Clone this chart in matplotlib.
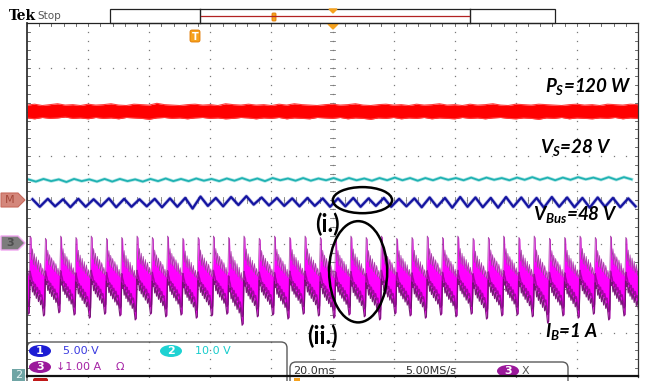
import numpy as np
import matplotlib
matplotlib.use('Agg')
import matplotlib.pyplot as plt
from matplotlib.patches import Ellipse, Polygon, Rectangle, FancyBboxPatch

plt.rcParams.update({
    'mathtext.fontset': 'custom',
    'mathtext.it': 'Lato:italic:bold',
    'mathtext.rm': 'Lato:italic:bold',
    'mathtext.bf': 'Lato:italic:bold',
})

W, H = 646, 381
PERIOD = 0.25   # ripple period in divisions (5 ms at 20 ms/div)

# --- P_S (red): edges of the noisy band, every 1/8 div ---
ps_x = np.linspace(0, 10, 81)
ps_upper = [2.15, 2.17, 2.14, 2.16, 2.18, 2.15, 2.16, 2.14, 2.17, 2.15,
            2.16, 2.18, 2.15, 2.14, 2.17, 2.16, 2.15, 2.19, 2.16, 2.15,
            2.14, 2.16, 2.17, 2.15, 2.16, 2.14, 2.18, 2.16, 2.15, 2.17,
            2.15, 2.16, 2.14, 2.17, 2.15, 2.18, 2.16, 2.15, 2.14, 2.16,
            2.17, 2.15, 2.16, 2.18, 2.15, 2.14, 2.16, 2.17, 2.15, 2.16,
            2.14, 2.17, 2.15, 2.16, 2.18, 2.15, 2.16, 2.14, 2.17, 2.15,
            2.16, 2.18, 2.15, 2.14, 2.17, 2.16, 2.15, 2.17, 2.16, 2.15,
            2.14, 2.16, 2.17, 2.15, 2.16, 2.14, 2.17, 2.16, 2.15, 2.17, 2.16]
ps_lower = [1.86, 1.84, 1.87, 1.85, 1.86, 1.88, 1.85, 1.86, 1.84, 1.87,
            1.85, 1.86, 1.84, 1.87, 1.86, 1.85, 1.83, 1.86, 1.87, 1.85,
            1.86, 1.84, 1.86, 1.87, 1.85, 1.86, 1.84, 1.85, 1.87, 1.86,
            1.84, 1.86, 1.85, 1.87, 1.84, 1.86, 1.85, 1.84, 1.87, 1.86,
            1.85, 1.87, 1.84, 1.86, 1.85, 1.83, 1.86, 1.85, 1.87, 1.84,
            1.86, 1.85, 1.87, 1.84, 1.86, 1.85, 1.84, 1.87, 1.85, 1.86,
            1.84, 1.86, 1.87, 1.85, 1.84, 1.86, 1.85, 1.83, 1.86, 1.85,
            1.87, 1.84, 1.86, 1.85, 1.84, 1.86, 1.85, 1.87, 1.84, 1.86, 1.85]

# --- V_S (cyan): ripple crests / troughs, one pair per cycle ---
vs_crest = [0.47, 0.48, 0.47, 0.48, 0.47, 0.48, 0.48, 0.47, 0.48, 0.49,
            0.48, 0.49, 0.48, 0.49, 0.50, 0.49, 0.50, 0.49, 0.50, 0.49,
            0.50, 0.50, 0.49, 0.50, 0.51, 0.50, 0.50, 0.51, 0.50, 0.51,
            0.51, 0.50, 0.51, 0.52, 0.51, 0.51, 0.52, 0.51, 0.52, 0.52]
vs_trough = [0.42, 0.43, 0.41, 0.43, 0.42, 0.42, 0.43, 0.42, 0.43, 0.43,
             0.43, 0.44, 0.43, 0.44, 0.44, 0.43, 0.45, 0.44, 0.44, 0.45,
             0.44, 0.45, 0.44, 0.45, 0.45, 0.44, 0.45, 0.46, 0.45, 0.45,
             0.46, 0.45, 0.46, 0.46, 0.45, 0.46, 0.47, 0.46, 0.46, 0.47]

# --- V_Bus (blue) ---
vbus_crest = [0.02, 0.03, 0.02, 0.03, 0.02, 0.04, 0.03, 0.02, 0.03, 0.04,
              0.05, 0.08, 0.05, 0.07, 0.09, 0.06, 0.05, 0.04, 0.05, 0.04,
              0.04, 0.05, 0.04, 0.05, 0.03, 0.04, 0.06, 0.05, 0.07, 0.06,
              0.05, 0.07, 0.06, 0.05, 0.07, 0.06, 0.05, 0.06, 0.05, 0.04]
vbus_trough = [-0.15, -0.14, -0.16, -0.15, -0.14, -0.16, -0.15, -0.14, -0.16, -0.15,
               -0.19, -0.13, -0.14, -0.11, -0.10, -0.12, -0.13, -0.14, -0.13, -0.15,
               -0.14, -0.15, -0.13, -0.15, -0.14, -0.16, -0.15, -0.17, -0.15, -0.16,
               -0.17, -0.15, -0.16, -0.17, -0.15, -0.16, -0.17, -0.15, -0.16, -0.14]

# --- I_B (magenta): spike top and trough bottom of every cycle ---
ib_top = [-0.84, -0.81, -0.86, -0.81, -0.84, -0.81, -0.86, -0.84, -0.81, -0.84,
          -0.81, -0.86, -0.84, -0.81, -0.84, -0.81, -0.86, -0.81, -0.84, -0.81,
          -0.84, -0.86, -0.81, -0.84, -0.81, -0.86, -0.84, -0.81, -0.84, -0.81,
          -0.86, -0.84, -0.81, -0.84, -0.81, -0.86, -0.84, -0.81, -0.84, -0.81,
          -0.84]
ib_bottom = [-2.58, -2.62, -2.55, -2.60, -2.67, -2.58, -2.62, -2.71, -2.58, -2.64,
             -2.60, -2.67, -2.62, -2.58, -2.83, -2.64, -2.60, -2.69, -2.58, -2.62,
             -2.67, -2.60, -2.64, -2.71, -2.58, -2.62, -2.67, -2.60, -2.64, -2.58,
             -2.69, -2.62, -2.60, -2.64, -2.78, -2.62, -2.67, -2.58, -2.71, -2.62,
             -2.64]
# shape of one cycle: phase, upper and lower edge (0 = spike top, 1 = trough)
ib_phase = [0.00, 0.06, 0.10, 0.16, 0.22, 0.28, 0.34, 0.41,
            0.48, 0.55, 0.62, 0.69, 0.76, 0.83, 0.88, 0.95]
ib_hi = [0.00, 0.02, 0.30, 0.16, 0.36, 0.22, 0.38, 0.26,
         0.42, 0.30, 0.45, 0.34, 0.48, 0.40, 0.50, 0.45]
ib_lo = [0.55, 0.62, 0.58, 0.70, 0.63, 0.74, 0.66, 0.78,
         0.70, 0.82, 0.74, 0.86, 0.80, 0.92, 1.00, 0.98]

fig = plt.figure(figsize=(W / 100, H / 100), dpi=100)
fig.patch.set_facecolor('white')

# screen: 10 x 8 divisions
sx0, sx1, sy0, sy1 = 27, 638, 23.3, 377.0
ax = fig.add_axes([sx0 / W, 1 - sy1 / H, (sx1 - sx0) / W, (sy1 - sy0) / H])
ax.set_xlim(0, 10)
ax.set_ylim(-4, 4)
ax.axis('off')

# graticule dots
gcol = '#7a7a7a'
for gx in range(1, 10):
    ax.plot(np.full(41, gx), np.arange(-4, 4.01, 0.2), ls='none', marker='s',
            ms=0.9, mew=0, color=gcol, zorder=1)
for gy in range(-3, 4):
    ax.plot(np.arange(0, 10.01, 0.2), np.full(51, gy), ls='none', marker='s',
            ms=0.9, mew=0, color=gcol, zorder=1)
# minor ticks on the centre lines and borders
for t in np.arange(0, 10.01, 0.2):
    ax.plot([t, t], [-0.06, 0.06], color=gcol, lw=0.6, zorder=1)
    ax.plot([t, t], [3.93, 4], color='#555555', lw=0.6, zorder=1)
for t in np.arange(-4, 4.01, 0.2):
    ax.plot([4.96, 5.04], [t, t], color=gcol, lw=0.6, zorder=1)
    ax.plot([0, 0.05], [t, t], color='#555555', lw=0.6, zorder=1)
    ax.plot([9.95, 10], [t, t], color='#555555', lw=0.6, zorder=1)

# P_S
ax.fill_between(ps_x, ps_lower, ps_upper, color='#ff0000', lw=0, zorder=3)
ax.plot(ps_x, ps_upper, color='#ff3a3a', lw=0.8, zorder=3)
ax.plot(ps_x, ps_lower, color='#ff3a3a', lw=0.8, zorder=3)

# V_S
k = np.arange(len(vs_crest))
vs_x = np.ravel(np.column_stack([0.02 + PERIOD * k, 0.145 + PERIOD * k]))
vs_y = np.ravel(np.column_stack([vs_crest, vs_trough]))
ax.plot(vs_x, vs_y, color='#7fd6d6', lw=2.4, alpha=0.6, zorder=3)
ax.plot(vs_x, vs_y, color='#1fb2b2', lw=1.3, zorder=3)

# V_Bus
k = np.arange(len(vbus_crest))
vb_x = np.ravel(np.column_stack([0.09 + PERIOD * k, 0.21 + PERIOD * k]))
vb_y = np.ravel(np.column_stack([vbus_crest, vbus_trough]))
ax.plot(vb_x, vb_y, color='#6060c8', lw=2.6, alpha=0.45, zorder=3)
ax.plot(vb_x, vb_y, color='#1414a0', lw=1.6, zorder=3)

# I_B
ib_x, ib_u, ib_l = [], [], []
for i, (top, bot) in enumerate(zip(ib_top, ib_bottom)):
    start = 0.05 + PERIOD * (i - 1)
    for p, h, lo in zip(ib_phase, ib_hi, ib_lo):
        ib_x.append(start + PERIOD * p)
        ib_u.append(top + h * (bot - top))
        ib_l.append(top + lo * (bot - top))
ib_x, ib_u, ib_l = map(np.array, (ib_x, ib_u, ib_l))
ax.fill_between(ib_x, ib_l, ib_u, color='#ff00ff', lw=0, zorder=3)
ax.plot(ib_x, ib_l, color='#7a1a7a', lw=0.8, zorder=3)
ax.plot(ib_x, ib_u, color='#a040a0', lw=0.5, zorder=3)
ib_mid = ib_l + 0.2 * (ib_u - ib_l)
ax.plot(ib_x, ib_mid, color='#6a0a6a', lw=1.1, alpha=0.6, zorder=3)

# labels
lab = dict(fontfamily='Lato', fontweight='bold', style='italic', fontsize=13.5,
           va='baseline', color='black', zorder=6)
ax.text(8.48, 2.44, r'$P_S$=120 W', **lab)
ax.text(8.40, 1.06, r'$V_S$=28 V', **lab)
ax.text(8.28, -0.45, r'$V_{Bus}$=48 V', **lab)
ax.text(8.48, -3.10, r'$I_B$=1 A', **lab)
ax.text(4.91, -0.54, '(i.)', fontfamily='Lato', fontweight='bold', fontsize=17,
        ha='center', va='center', zorder=6)
ax.text(4.83, -3.08, '(ii.)', fontfamily='Lato', fontweight='bold', fontsize=17,
        ha='center', va='center', zorder=6)
ax.add_patch(Ellipse((5.49, 0.0), 0.97, 0.59, fill=False, ec='black', lw=1.8, zorder=6))
ax.add_patch(Ellipse((5.42, -1.62), 0.95, 2.29, fill=False, ec='black', lw=1.8, zorder=6))

# scope chrome, drawn in pixel coordinates
ov = fig.add_axes([0, 0, 1, 1], zorder=5)
ov.set_xlim(0, W)
ov.set_ylim(H, 0)
ov.axis('off')

ov.plot([sx0, sx0], [sy0, 376.5], color='#333333', lw=1.3)
ov.plot([sx0, sx1], [sy0, sy0], color='#222222', lw=0.9)
ov.plot([sx1, sx1], [sy0, 376.5], color='#333333', lw=0.9)
ov.plot([sx0, sx1], [376.3, 376.3], color='#111111', lw=1.6)

ov.text(9, 16, 'Tek', fontfamily='DejaVu Serif', fontweight='bold', fontsize=10,
        va='center')
ov.text(37, 16, 'Stop', fontsize=7.5, color='#555555', va='center')

orange = '#f6a21e'
ov.add_patch(Rectangle((110, 9), 445, 14, fc='white', ec='#222222', lw=0.9))
ov.plot([200, 200], [9, 23], color='#222222', lw=1.0)
ov.plot([470, 470], [9, 23], color='#222222', lw=1.0)
ov.plot([201, 469], [15.5, 15.5], color='#b22222', lw=0.9)
ov.add_patch(FancyBboxPatch((272, 13), 4, 8, boxstyle='round,pad=0,rounding_size=1',
                            fc=orange, ec='#e07800', lw=0.6))
ov.add_patch(Polygon([(329, 9), (337, 9), (333, 13)], color=orange))
ov.add_patch(Polygon([(328, 24), (338, 24), (333, 29)], color=orange))
ov.add_patch(FancyBboxPatch((190, 30), 10, 12, boxstyle='round,pad=0,rounding_size=2',
                            fc=orange, ec='#e07800', lw=0.6))
ov.text(195, 36.5, 'T', color='white', fontsize=7, fontweight='bold',
        ha='center', va='center')

# channel offset markers
ov.add_patch(Polygon([(1, 193), (18, 193), (25, 200), (18, 207), (1, 207)],
                     fc='#d4877b', ec='#c86a5c', lw=0.8))
ov.text(10, 200, 'M', color='#a5483a', fontsize=8, ha='center', va='center')
ov.add_patch(Polygon([(1, 236), (18, 236), (25, 243), (18, 250), (1, 250)],
                     fc='#7c7c7c', ec='#f0a6f0', lw=1.0))
ov.text(10, 243, '3', color='#4e4e4e', fontsize=8, fontweight='bold',
        ha='center', va='center')
ov.add_patch(Rectangle((12, 369), 13, 12, fc='#6fa5a5', ec='none'))
ov.text(18.5, 375.5, '2', color='#e8f4f4', fontsize=8, ha='center', va='center')
ov.add_patch(FancyBboxPatch((33, 378), 15, 6, boxstyle='round,pad=0,rounding_size=2',
                            fc='#c01818', ec='none'))
ov.add_patch(Rectangle((294, 378), 6, 4, fc=orange, ec='none'))

# readout boxes
ov.add_patch(FancyBboxPatch((27, 342), 260, 50, boxstyle='round,pad=0,rounding_size=6',
                            fc='none', ec='#5a5a5a', lw=1.0))
ov.add_patch(FancyBboxPatch((290, 362), 278, 30, boxstyle='round,pad=0,rounding_size=6',
                            fc='none', ec='#5a5a5a', lw=1.0))


def pill(x, y, label, color):
    ov.add_patch(Ellipse((x, y), 22, 12, fc=color, ec='none'))
    ov.text(x, y, label, color='white', fontsize=8, fontweight='bold',
            ha='center', va='center')


rd = dict(fontsize=8, va='center')
pill(40, 351, '1', '#1c1cd4')
ov.text(63, 351, '5.00 V', color='#3a3ae0', **rd)
pill(171, 351, '2', '#1ed2d2')
ov.text(195, 351, '10.0 V', color='#18cccc', **rd)
pill(40, 367, '3', '#9b189b')
ov.text(56, 367, '\u21931.00 A', color='#a523a5', **rd)
ov.text(116, 367, '\u03a9', color='#a523a5', **rd)
ov.text(293, 371, '20.0ms', color='#333333', **rd)
ov.text(405, 371, '5.00MS/s', color='#333333', **rd)
pill(508, 371, '3', '#9b189b')
ov.text(522, 371, 'X', color='#555555', **rd)

fig.savefig('out.png', dpi=100)
